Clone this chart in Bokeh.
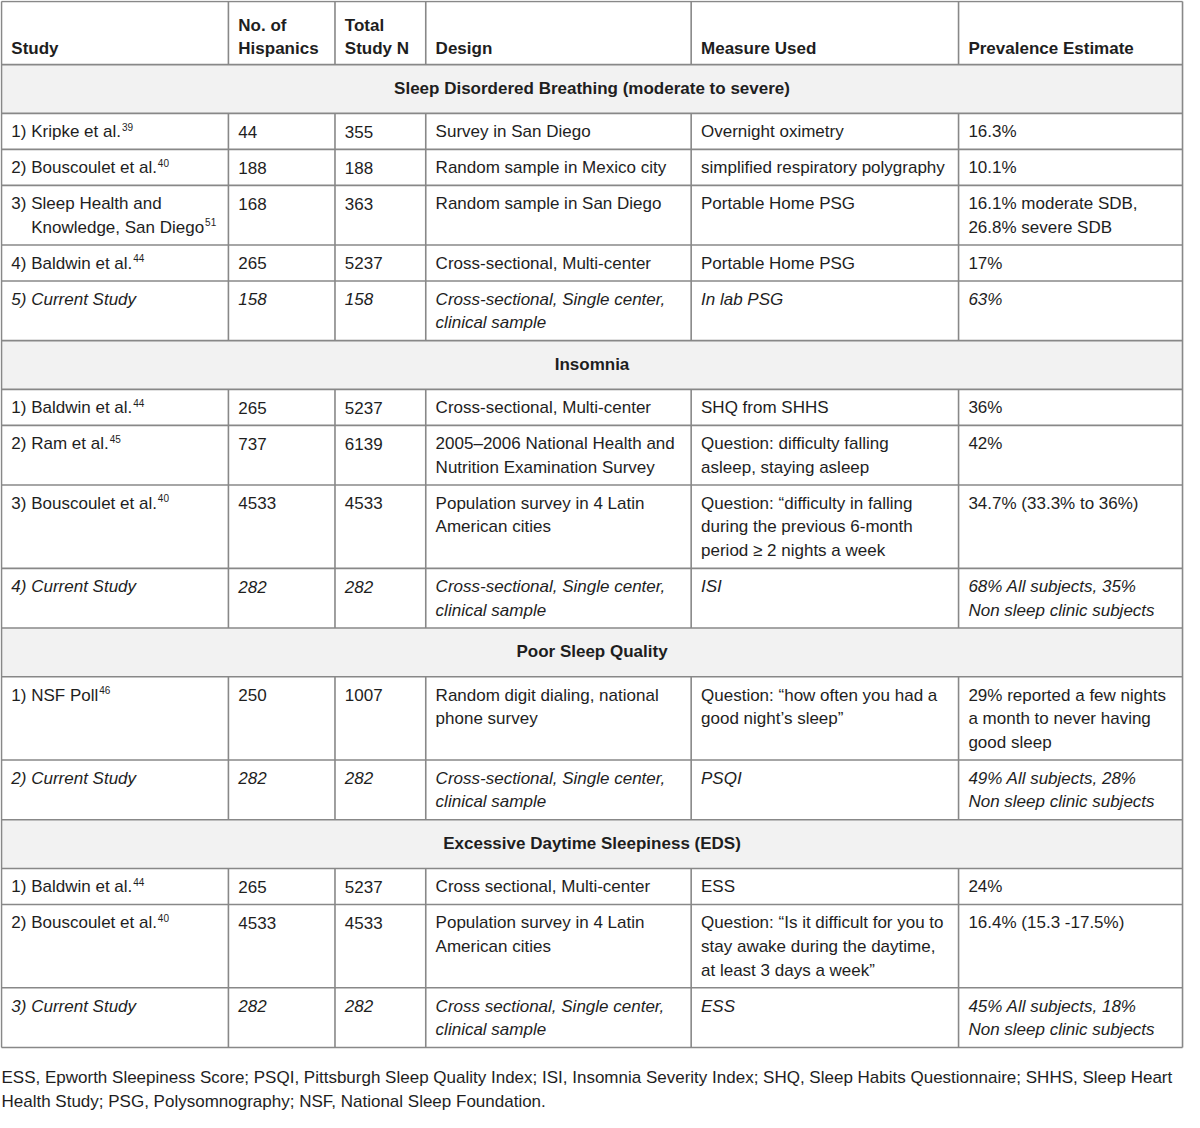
from bokeh.plotting import figure
from bokeh.models import Range1d
from bokeh.core.properties import value
from bokeh.embed import file_html
from bokeh.resources import INLINE

# ---------------- data ----------------
column_titles = ["Study", "No. of\nHispanics", "Total\nStudy N", "Design", "Measure Used", "Prevalence Estimate"]

section_titles = [
    "Sleep Disordered Breathing (moderate to severe)",
    "Insomnia",
    "Poor Sleep Quality",
    "Excessive Daytime Sleepiness (EDS)",
]

row_section = [0, 0, 0, 0, 0, 1, 1, 1, 1, 2, 2, 3, 3, 3]

studies = [
    "1) Kripke et al.",
    "2) Bouscoulet et al.",
    "3) Sleep Health and\nKnowledge, San Diego",
    "4) Baldwin et al.",
    "5) Current Study",
    "1) Baldwin et al.",
    "2) Ram et al.",
    "3) Bouscoulet et al.",
    "4) Current Study",
    "1) NSF Poll",
    "2) Current Study",
    "1) Baldwin et al.",
    "2) Bouscoulet et al.",
    "3) Current Study",
]

study_refs = ["39", "40", "51", "44", "", "44", "45", "40", "", "46", "", "44", "40", ""]

n_hispanics = ["44", "188", "168", "265", "158", "265", "737", "4533", "282", "250", "282", "265", "4533", "282"]
total_n = ["355", "188", "363", "5237", "158", "5237", "6139", "4533", "282", "1007", "282", "5237", "4533", "282"]

designs = [
    "Survey in San Diego",
    "Random sample in Mexico city",
    "Random sample in San Diego",
    "Cross-sectional, Multi-center",
    "Cross-sectional, Single center,\nclinical sample",
    "Cross-sectional, Multi-center",
    "2005\u20132006 National Health and\nNutrition Examination Survey",
    "Population survey in 4 Latin\nAmerican cities",
    "Cross-sectional, Single center,\nclinical sample",
    "Random digit dialing, national\nphone survey",
    "Cross-sectional, Single center,\nclinical sample",
    "Cross sectional, Multi-center",
    "Population survey in 4 Latin\nAmerican cities",
    "Cross sectional, Single center,\nclinical sample",
]

measures = [
    "Overnight oximetry",
    "simplified respiratory polygraphy",
    "Portable Home PSG",
    "Portable Home PSG",
    "In lab PSG",
    "SHQ from SHHS",
    "Question: difficulty falling\nasleep, staying asleep",
    "Question: \u201cdifficulty in falling\nduring the previous 6-month\nperiod \u2265 2 nights a week",
    "ISI",
    "Question: \u201chow often you had a\ngood night\u2019s sleep\u201d",
    "PSQI",
    "ESS",
    "Question: \u201cIs it difficult for you to\nstay awake during the daytime,\nat least 3 days a week\u201d",
    "ESS",
]

prevalences = [
    "16.3%",
    "10.1%",
    "16.1% moderate SDB,\n26.8% severe SDB",
    "17%",
    "63%",
    "36%",
    "42%",
    "34.7% (33.3% to 36%)",
    "68% All subjects, 35%\nNon sleep clinic subjects",
    "29% reported a few nights\na month to never having\ngood sleep",
    "49% All subjects, 28%\nNon sleep clinic subjects",
    "24%",
    "16.4% (15.3 -17.5%)",
    "45% All subjects, 18%\nNon sleep clinic subjects",
]

current_study = [False, False, False, False, True, False, False, False, True, False, True, False, False, True]

footnote = [
    "ESS, Epworth Sleepiness Score; PSQI, Pittsburgh Sleep Quality Index; ISI, Insomnia Severity Index; SHQ, Sleep Habits Questionnaire; SHHS, Sleep Heart",
    "Health Study; PSG, Polysomnography; NSF, National Sleep Foundation.",
]

# ---------------- layout ----------------
W_REF, H_REF = 1200, 1128
FIG_W, FIG_H = 1184, 1112
SCALE = FIG_W / W_REF
FONT = "Liberation Sans"
FS_PX = 17
FS = f"{FS_PX}px"
SUP_FS = "10px"
TEXT_COLOR = "#1e1e1e"
LINE_COLOR = "#888888"
SECTION_FILL = "#f2f2f2"

col_edges = [1, 231, 339, 431, 700, 971, 1198]
PAD_X = 10
LINE_H = 24
HEADER_H = 64
SECTION_H = 49.5

# Arial / Liberation Sans advance widths (1/1000 em) for measuring study labels
_W = {" ": 278, ")": 333, ".": 278, ",": 278}
_W.update({d: 556 for d in "0123456789"})
_W.update(dict(zip("abcdefghijklmnopqrstuvwxyz",
                   [556, 556, 500, 556, 556, 278, 556, 556, 222, 222, 500, 222, 833,
                    556, 556, 556, 556, 333, 500, 278, 556, 500, 722, 500, 500, 500])))
_W.update(dict(zip("ABCDEFGHIJKLMNOPQRSTUVWXYZ",
                   [667, 667, 722, 722, 667, 611, 778, 722, 278, 500, 667, 556, 833,
                    722, 778, 667, 778, 722, 667, 611, 722, 667, 944, 667, 667, 611])))


def text_width(s):
    return sum(_W.get(ch, 556) for ch in s) / 1000.0 * FS_PX / SCALE


HANG = text_width("3) ")   # hanging indent for wrapped study names

p = figure(width=FIG_W, height=FIG_H, output_backend="svg", toolbar_location=None,
           x_range=Range1d(0, W_REF), y_range=Range1d(H_REF, 0),
           min_border=0, outline_line_color=None, background_fill_color="white",
           border_fill_color="white")
p.axis.visible = False
p.grid.visible = False

txt = {"normal": ([], [], [], []), "italic": ([], [], [], []), "bold": ([], [], [], [])}
sup_x, sup_y, sup_t = [], [], []


def add_text(style, x, y, s, align="left"):
    xs, ys, ts, al = txt[style]
    xs.append(x); ys.append(y); ts.append(s); al.append(align)


hx0, hx1, hy0, hy1 = [], [], [], []   # horizontal lines
vx, vy0, vy1 = [], [], []              # vertical lines
fl, fr, ft, fb = [], [], [], []        # section fills

top = 1
# header
for c, title in enumerate(column_titles):
    lines = title.split("\n")
    n = len(lines)
    for i, ln in enumerate(lines):
        y = top + HEADER_H - 16 - (n - 1 - i) * LINE_H
        add_text("bold", col_edges[c] + PAD_X, y, ln)
for c in range(1, len(col_edges) - 1):
    vx.append(col_edges[c]); vy0.append(top); vy1.append(top + HEADER_H)
y = top + HEADER_H
hx0.append(col_edges[0]); hx1.append(col_edges[-1]); hy0.append(top); hy1.append(top)
hx0.append(col_edges[0]); hx1.append(col_edges[-1]); hy0.append(y); hy1.append(y)

prev_section = None
for r in range(len(studies)):
    sec = row_section[r]
    if sec != prev_section:
        fl.append(col_edges[0]); fr.append(col_edges[-1]); ft.append(y); fb.append(y + SECTION_H)
        add_text("bold", (col_edges[0] + col_edges[-1]) / 2, y + 24, section_titles[sec], "center")
        y += SECTION_H
        hx0.append(col_edges[0]); hx1.append(col_edges[-1]); hy0.append(y); hy1.append(y)
        prev_section = sec
    cells = [studies[r], n_hispanics[r], total_n[r], designs[r], measures[r], prevalences[r]]
    nlines = max(len(cc.split("\n")) for cc in cells)
    h = 12.5 + LINE_H * nlines
    style = "italic" if current_study[r] else "normal"
    for c, cc in enumerate(cells):
        for i, ln in enumerate(cc.split("\n")):
            indent = HANG if (c == 0 and i > 0) else 0
            add_text(style, col_edges[c] + PAD_X + indent, y + 18.5 + i * LINE_H, ln)
    if study_refs[r]:
        st_lines = studies[r].split("\n")
        last = st_lines[-1]
        indent = HANG if len(st_lines) > 1 else 0
        sup_x.append(col_edges[0] + PAD_X + indent + text_width(last) + 1)
        sup_y.append(y + 18.5 + (len(st_lines) - 1) * LINE_H - 5)
        sup_t.append(study_refs[r])
    for c in range(1, len(col_edges) - 1):
        vx.append(col_edges[c]); vy0.append(y); vy1.append(y + h)
    y += h
    hx0.append(col_edges[0]); hx1.append(col_edges[-1]); hy0.append(y); hy1.append(y)

table_bottom = y
vx += [col_edges[0], col_edges[-1]]
vy0 += [top, top]
vy1 += [table_bottom, table_bottom]

for i, ln in enumerate(footnote):
    add_text("normal", 1, table_bottom + 31 + i * LINE_H, ln)

p.quad(left=fl, right=fr, top=ft, bottom=fb, fill_color=SECTION_FILL, line_color=None)
p.segment(x0=hx0, x1=hx1, y0=hy0, y1=hy1, line_color=LINE_COLOR, line_width=1.6)
p.segment(x0=vx, x1=vx, y0=vy0, y1=vy1, line_color=LINE_COLOR, line_width=1.6)

for style, (xs, ys, ts, al) in txt.items():
    p.text(x=xs, y=ys, text=ts, text_align=al, text_baseline="middle",
           text_font=value(FONT), text_font_size=FS,
           text_font_style=style, text_color=TEXT_COLOR)

p.text(x=sup_x, y=sup_y, text=sup_t, text_align="left", text_baseline="middle",
       text_font=value(FONT), text_font_size=SUP_FS, text_color=TEXT_COLOR)

open("out.html", "w").write(file_html(p, INLINE))
